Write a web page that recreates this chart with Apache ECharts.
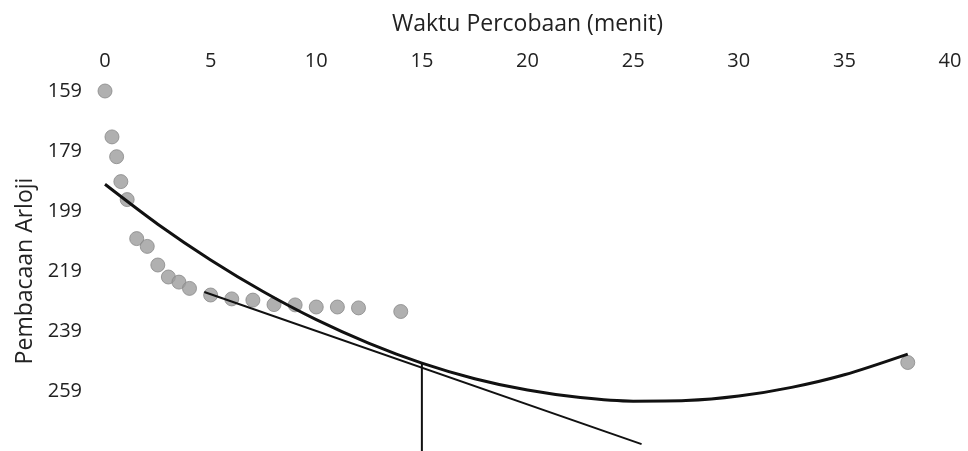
<!DOCTYPE html>
<html>
<head>
<meta charset="utf-8">
<script src="https://cdn.jsdelivr.net/npm/echarts@6/dist/echarts.min.js"></script>
<style>html,body{margin:0;padding:0;background:#fff}#c{width:968px;height:451px}</style>
</head>
<body>
<div id="c"></div>
<script>
// Observed data (time in minutes, watch reading)
const timeMin = [0, 0.33, 0.55, 0.75, 1.05, 1.5, 2, 2.5, 3, 3.5, 4, 5, 6, 7, 8, 9, 10, 11, 12, 14, 38];
const reading = [159, 174.3, 180.9, 189.2, 195.2, 208.2, 210.8, 217, 221, 222.7, 224.8, 227, 228.3, 228.7, 230.2, 230.3, 231, 231, 231.3, 232.5, 249.5];
// Trend curve
const curveX = [0, 2.5, 5, 7.5, 10, 12.5, 15, 17.5, 20, 22.5, 25, 27.5, 30, 32.5, 35, 38];
const curveY = [190.1, 203.4, 215.3, 225.9, 235.2, 243.1, 249.7, 254.9, 258.7, 261.2, 262.4, 262.2, 260.7, 257.8, 253.6, 246.7];
// Tangent line end points
const tangentX = [4.7, 25.4];
const tangentY = [226, 276.7];
// Vertical marker line
const vertX = [15, 15];
const vertY = [250, 279];
// Axis ticks
const xTicks = [0, 5, 10, 15, 20, 25, 30, 35, 40];
const yTicks = [159, 179, 199, 219, 239, 259, 279];

const zip = (a, b) => a.map((v, i) => [v, b[i]]);
const font = 'Open Sans';
const chart = echarts.init(document.getElementById('c'));
chart.setOption({
  animation: false,
  backgroundColor: '#fff',
  grid: { left: 105, right: 18, top: 91, height: 362 },
  xAxis: {
    type: 'value', position: 'top',
    min: xTicks[0], max: xTicks[xTicks.length - 1], interval: 5,
    name: 'Waktu Percobaan (menit)', nameLocation: 'middle', nameGap: 55,
    nameTextStyle: { fontFamily: font, fontSize: 23, color: '#222' },
    axisLine: { show: false }, axisTick: { show: false }, splitLine: { show: false },
    axisLabel: { fontFamily: font, fontSize: 20, color: '#222', margin: 20 }
  },
  yAxis: {
    type: 'value', inverse: true,
    min: yTicks[0], max: yTicks[yTicks.length - 1], interval: 20,
    name: 'Pembacaan Arloji', nameLocation: 'middle', nameGap: 68, nameRotate: 90,
    nameTextStyle: { fontFamily: font, fontSize: 23, color: '#222' },
    axisLine: { show: false }, axisTick: { show: false }, splitLine: { show: false },
    axisLabel: { fontFamily: font, fontSize: 20, color: '#222', margin: 23,
      formatter: v => (v >= 279 ? '' : String(v)) }
  },
  series: [
    { type: 'scatter', data: zip(timeMin, reading), symbolSize: 14, z: 2,
      itemStyle: { color: '#9c9c9c', borderColor: '#888', borderWidth: 1 } },
    { type: 'line', data: zip(curveX, curveY), smooth: 0.3, showSymbol: false, z: 3,
      lineStyle: { color: '#111', width: 3 } },
    { type: 'line', data: zip(tangentX, tangentY), showSymbol: false, z: 3,
      lineStyle: { color: '#111', width: 2 } },
    { type: 'line', data: zip(vertX, vertY), showSymbol: false, z: 3,
      lineStyle: { color: '#111', width: 2 } }
  ]
});
</script>
</body>
</html>
